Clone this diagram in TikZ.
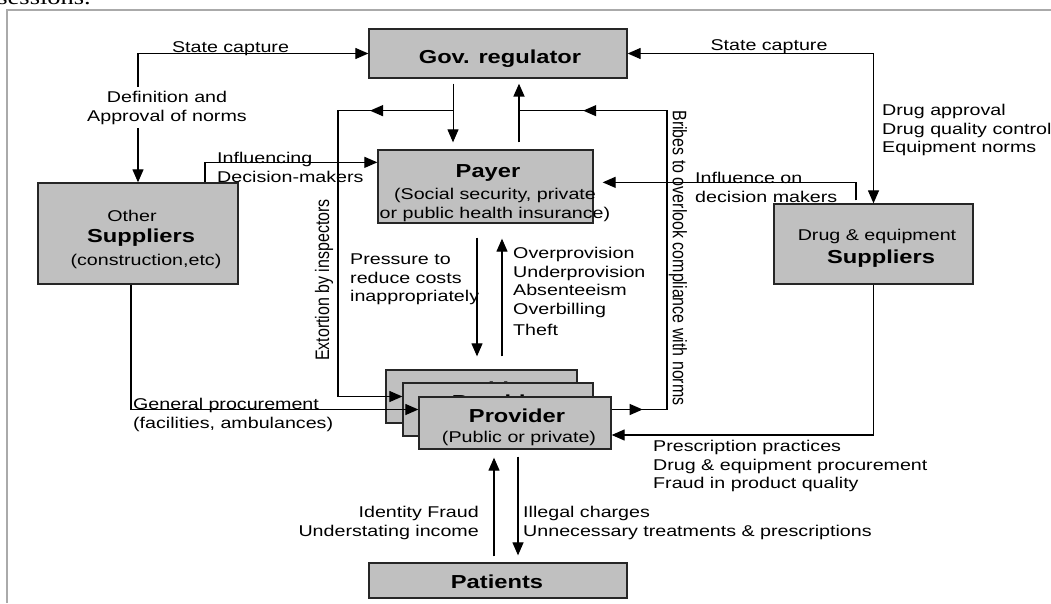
\documentclass[tikz,border=0pt]{standalone}
\usepackage{fontspec}
\usepackage{graphicx}
\setmainfont{Liberation Sans}[FakeStretch=1.26]
\newfontfamily\dgRotFont{Liberation Sans}
\newfontfamily\dgPageFont{Liberation Serif}[FakeStretch=1.26]
\usetikzlibrary{arrows.meta,calc,decorations.markings}
\definecolor{boxgray}{RGB}{192,192,192}
\definecolor{framegray}{RGB}{170,170,170}
\newcommand\dgLbl{\fontsize{15.6}{18.5}\selectfont}
\newcommand\dgBold{\fontsize{18.8}{22}\selectfont\bfseries}
\newcommand\dgRot[1]{\scalebox{1}[1.22]{\dgRotFont\fontsize{16}{19}\selectfont #1}}
\tikzset{
  box/.style={draw=black!85, line width=1.3pt, fill=boxgray, inner sep=0pt, rectangle},
  lbl/.style={font=\dgLbl, inner sep=0pt},
  bold/.style={font=\dgBold, inner sep=0pt},
  conn/.style={line width=1.2pt, draw=black},
  tip/.tip={Triangle[length=13pt,width=11pt]},
  arr/.style={conn, -tip},
  both/.style={conn, tip-tip},
  midarr/.style={postaction={decorate, decoration={markings, mark=at position #1 with {\arrow{tip}}}}},
}
\begin{document}
\begin{tikzpicture}[x=1pt,y=-1pt]
\useasboundingbox (0,0) rectangle (1051,603);
\fill[white] (0,0) rectangle (1051,603);
\node[font=\dgPageFont\fontsize{21}{24}\selectfont, anchor=base east, inner sep=0pt] (pagetxt) at (91,4) {sessions.};
\draw[framegray, line width=1.5pt] (7,603) -- (7,10) -- (1051,10);

% boxes
\node[box, minimum width=258pt, minimum height=49pt] (gov) at (498,53.5) {};
\node[bold, anchor=base] (govt) at (500,63) {Gov. regulator};

\node[box, minimum width=215pt, minimum height=73pt] (payer) at (485.5,186.5) {};
\node[bold, anchor=base] (payert) at (488,177) {Payer};
\node[lbl, align=center, anchor=north] (payers) at (495,188) {(Social security, private\\or public health insurance)};

\node[box, minimum width=200pt, minimum height=101pt] (other) at (138,233.5) {};
\node[lbl, anchor=base] (othert1) at (132,221) {Other};
\node[bold, anchor=base] (othert2) at (141,242) {Suppliers};
\node[lbl, anchor=base] (othert3) at (146,265) {(construction,etc)};

\node[box, minimum width=199pt, minimum height=80pt] (drug) at (873.5,244) {};
\node[lbl, anchor=base] (drugt1) at (877,240) {Drug \& equipment};
\node[bold, anchor=base] (drugt2) at (881,263) {Suppliers};

\node[box, minimum width=191pt, minimum height=53pt] (prov1) at (481.5,396.5) {};
\node[bold, anchor=base] (prov1a) at (483.5,395) {Provider};
\node[lbl, anchor=base] (prov1b) at (485.5,415) {(Public or private)};
\node[box, minimum width=190pt, minimum height=53pt] (prov2) at (498,409.5) {};
\node[bold, anchor=base] (prov2a) at (500,408) {Provider};
\node[lbl, anchor=base] (prov2b) at (502,428) {(Public or private)};
\node[box, minimum width=192pt, minimum height=52pt] (prov3) at (515,423) {};
\node[bold, anchor=base] (prov3a) at (517,422) {Provider};
\node[lbl, anchor=base] (prov3b) at (519,442) {(Public or private)};

\node[box, minimum width=258pt, minimum height=35pt] (patients) at (498,580.5) {};
\node[bold, anchor=base] (patientst) at (497,588) {Patients};

% helper corner points
\coordinate (gp) at ($(gov.south)+(-45,0)$);
\coordinate (pg) at ($(gov.south)+(21,0)$);
\coordinate (ex) at ($(gov.south)+(-45,32)$);
\coordinate (exc) at ($(gov.south)+(-160,32)$);
\coordinate (br) at ($(gov.south)+(21,32)$);
\coordinate (brc) at ($(gov.south)+(169,32)$);

% connectors
\draw[both] (other.north) |- (gov.west);
\draw[both] (gov.east) -| (drug.north);
\draw[arr, line width=1pt, shorten <=5pt, shorten >=7pt] (gp) -- (gp |- payer.north);
\draw[arr, line width=1.8pt, shorten <=7pt, shorten >=5pt] (pg |- payer.north) -- (pg);
\draw[arr, midarr=83pt] (ex) -- (exc) |- (prov2.west |- prov1.west);
\draw[conn, midarr=31pt, midarr=438pt] (prov3.east |- prov2.east) -| (brc) -- (br);
\draw[arr] ($(other.north)+(67,0)$) |- ($(payer.north west)+(0,13)$);
\draw[arr] ($(drug.north)+(-17.5,-3)$) |- ($(payer.north east)+(9,33)$);
\draw[arr] ($(payer.south)+(-8.5,14)$) -- ($(prov1.north)+(-4.5,-13)$);
\draw[arr] ($(prov1.north)+(20.5,-13)$) -- ($(payer.south)+(16.5,15)$);
\draw[arr] ($(other.south)+(-7,0)$) |- (prov3.west |- prov2.west);
\draw[arr] (drug.south) |- ($(prov3.east)+(0,12)$);
\draw[arr] ($(patients.north)+(-4,-6)$) -- ($(prov3.south)+(-21,8)$);
\draw[arr] ($(prov3.south)+(3,7)$) -- ($(patients.north)+(20,-7)$);

% labels
\node[lbl, anchor=base] (sc1) at (230.5,52) {State capture};
\node[lbl, align=center, fill=white, inner xsep=2pt, inner ysep=4pt, anchor=north] (deflbl) at (167,87) {Definition and\\Approval of norms};
\node[lbl, align=left, anchor=north west] (infl) at (217,152) {Influencing\\Decision-makers};
\node[lbl, anchor=base] (sc2) at (769,50) {State capture};
\node[lbl, align=left, anchor=north west] (drugapp) at (882,104) {Drug approval\\Drug quality control\\Equipment norms};
\node[lbl, align=left, anchor=north west] (inflon) at (695,172) {Influence on\\decision makers};
\node[lbl, align=left, anchor=north west] (press) at (350,254) {Pressure to\\reduce costs\\inappropriately};
\node[lbl, align=left, anchor=north west] (over) at (513,247) {Overprovision\\Underprovision\\Absenteeism\\Overbilling\\[2.5pt]Theft};
\node[inner sep=0pt, rotate=90] (extl) at (324,280) {\dgRot{Extortion by inspectors}};
\node[inner sep=0pt, rotate=-90] (bribl) at (678,258) {\dgRot{Bribes to overlook compliance with norms}};
\node[lbl, align=left, anchor=north west] (genproc) at (133,398) {General procurement\\(facilities, ambulances)};
\node[lbl, align=left, anchor=north west] (prescr) at (653,440) {Prescription practices\\Drug \& equipment procurement\\Fraud in product quality};
\node[lbl, align=right, anchor=north east] (ident) at (479,506) {Identity Fraud\\Understating income};
\node[lbl, align=left, anchor=north west] (illeg) at (523,506) {Illegal charges\\Unnecessary treatments \& prescriptions};
\end{tikzpicture}
\end{document}
